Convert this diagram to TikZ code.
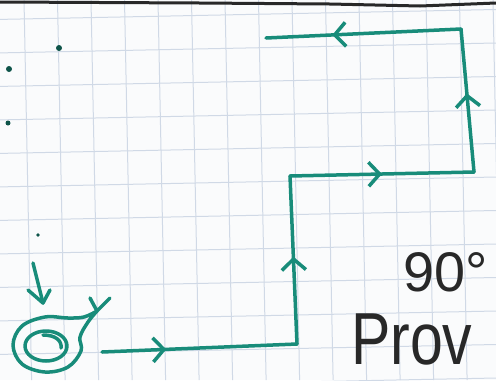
\documentclass[tikz,border=0pt]{standalone}
\usepackage{fontspec}
\setmainfont{Liberation Sans}
\usetikzlibrary{arrows.meta, decorations.markings}
\definecolor{inkteal}{RGB}{24,140,122}
\definecolor{gridblue}{RGB}{208,217,230}
\definecolor{inkgray}{RGB}{40,40,40}
\definecolor{paper}{RGB}{250,251,252}

\tikzset{
  ink/.style={draw=inkteal, line width=3.5bp, line cap=round, line join=round},
  midarrow/.style={decoration={markings, mark=at position #1 with {\arrow{Straight Barb[length=11bp,width=24bp]}}}, postaction={decorate}},
  gridline/.style={draw=gridblue, line width=1bp},
  handtext/.style={text=inkgray, inner sep=0pt, text depth=0pt, anchor=base west}
}

\begin{document}
\begin{tikzpicture}[x=1bp, y=-1bp]
    \useasboundingbox (0,0) rectangle (496,380);
    \fill[paper] (0,0) rectangle (496,380);

    % squared paper, slightly tilted
    \foreach \k in {-1,...,11}
        \draw[gridline] (0,{19.4+33.5*\k}) -- (496,{19.4+33.5*\k-9.9});
    \foreach \k in {-1,...,14}
        \draw[gridline] ({24+33.5*\k},0) -- ({24+33.5*\k+7.6},380);
    \draw[inkgray, line width=3bp] (0,2) -- (200,3) -- (330,4) -- (420,6) -- (496,3);

    % dots
    \fill[inkteal!60!black] (59,48) circle (3);
    \fill[inkteal!60!black] (9,69) circle (3);
    \fill[inkteal!60!black] (8,123) circle (2.5);
    \fill[inkteal!60!black] (38,235) circle (1.8);

    % corners of the route
    \coordinate (start) at (102,352);
    \coordinate (c1) at (297,344);
    \coordinate (c2) at (290,176);
    \coordinate (c3) at (474,172);
    \coordinate (c4) at (461,29);
    \coordinate (stop) at (266,38);

    \draw[ink, midarrow=0.33] (start) -- (c1);
    \draw[ink, midarrow=0.52] (c1) -- (c2);
    \draw[ink, midarrow=0.5] (c2) -- (c3);
    \draw[ink, midarrow=0.55] (c3) -- (c4);
    \draw[ink, midarrow=0.66] (c4) -- (stop);

    % spiral with its tail
    \coordinate (tail) at (97,311);
    \draw[ink] plot[smooth, tension=0.6] coordinates {(tail) (84,317) (68,318) (45,317) (22,326) (13,345) (22,364) (45,372) (68,367) (81,351) (80,337) (88,322) (tail)};
    \draw[ink] (46,346) ellipse [x radius=21, y radius=15];
    \draw[ink] (43,335) .. controls (56,335) and (62,341) .. (61,348);
    \draw[ink] (90,298) -- (tail) -- (110,298);

    % arrow dropping onto the spiral
    \coordinate (drop) at (33,263);
    \coordinate (land) at (43,303);
    \draw[ink] (drop) -- (land);
    \draw[ink] (28,290) -- (land) -- (50,290);

    % handwriting
    \node[handtext, font=\fontsize{56}{56}\selectfont] (angle) at (403,291) {90°};
    \node[handtext, font=\fontsize{74}{74}\selectfont] (proof) at (351,364) {\scalebox{0.8}[1]{Prov}};
\end{tikzpicture}
\end{document}
